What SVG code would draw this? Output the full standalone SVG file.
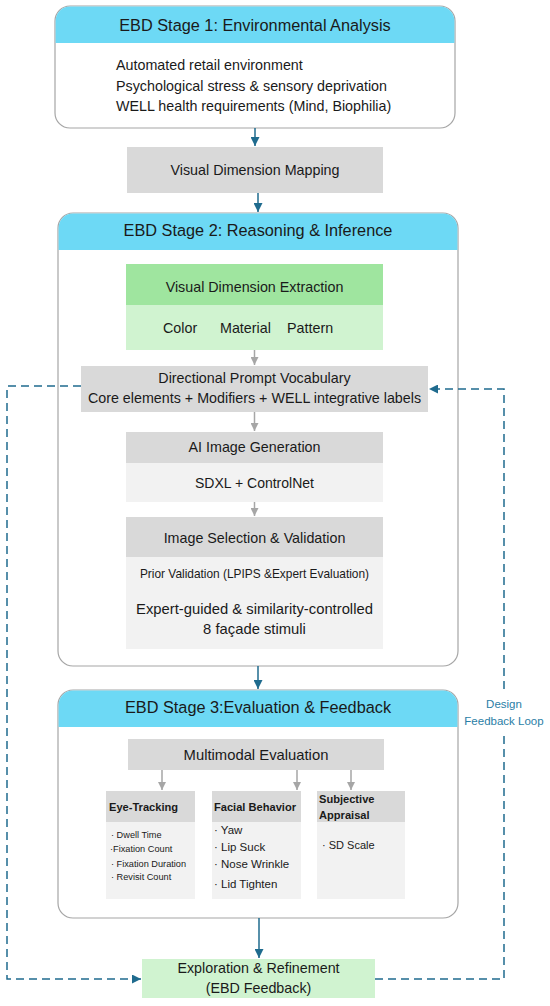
<svg xmlns="http://www.w3.org/2000/svg" width="550" height="1006" viewBox="0 0 550 1006">
<style>
text{font-family:"Liberation Sans",Arial,sans-serif;fill:#1a1a1a}
.hd{font-size:16.3px;text-anchor:middle}
.t{font-size:14.3px}
.c{text-anchor:middle}
.stage{fill:#ffffff;stroke:#a6a6a6;stroke-width:1.2}
.cyan{fill:#6dd9f5}
.g1{fill:#d9d9d9}
.g2{fill:#f2f2f2}
.gr1{fill:#9fe59f}
.gr2{fill:#d0f3d0}
.b{font-weight:bold;font-size:11.1px}
.sm{font-size:9.2px}
.md{font-size:11.5px}
.blue{stroke:#1f6b8e;stroke-width:1.5;fill:none}
.dash{stroke:#1f6b8e;stroke-width:1.5;fill:none;stroke-dasharray:8 5}
.gray{stroke:#a6a6a6;stroke-width:1.5;fill:none}
.lbl{font-size:11.5px;fill:#2a7ea6;text-anchor:middle}
</style>
<defs>
<marker id="ab" viewBox="0 0 10 10" refX="10" refY="5" markerWidth="9" markerHeight="9" markerUnits="userSpaceOnUse" orient="auto"><path d="M0,0 L10,5 L0,10 z" fill="#1f6b8e"/></marker>
<marker id="ag" viewBox="0 0 10 10" refX="10" refY="5" markerWidth="8" markerHeight="8" markerUnits="userSpaceOnUse" orient="auto"><path d="M0,0 L10,5 L0,10 z" fill="#a6a6a6"/></marker>
</defs>

<g id="stage1">
<path class="stage" d="M70,6 H440 A15,15 0 0 1 455,21 V113 A15,15 0 0 1 440,128 H70 A15,15 0 0 1 55,113 V21 A15,15 0 0 1 70,6 Z"/>
<path class="cyan" d="M70,6.6 H440 A14.4,14.4 0 0 1 454.4,21 V43 H55.6 V21 A14.4,14.4 0 0 1 70,6.6 Z"/>
<text class="hd" x="255" y="31">EBD Stage 1: Environmental Analysis</text>
<text class="t" x="116" y="70">Automated retail environment</text>
<text class="t" x="116" y="91">Psychological stress &amp; sensory deprivation</text>
<text class="t" x="116" y="111">WELL health requirements (Mind, Biophilia)</text>
</g>

<g id="mapping">
<rect class="g1" x="127" y="147" width="256" height="46"/>
<text class="t c" x="255" y="175">Visual Dimension Mapping</text>
</g>

<g id="stage2">
<path class="stage" d="M73,213 H443 A15,15 0 0 1 458,228 V651 A15,15 0 0 1 443,666 H73 A15,15 0 0 1 58,651 V228 A15,15 0 0 1 73,213 Z"/>
<path class="cyan" d="M73,213.6 H443 A14.4,14.4 0 0 1 457.4,228 V250 H58.6 V228 A14.4,14.4 0 0 1 73,213.6 Z"/>
<text class="hd" x="258" y="236">EBD Stage 2: Reasoning &amp; Inference</text>
</g>

<g id="extraction">
<rect class="gr1" x="126" y="264" width="257" height="41"/>
<rect class="gr2" x="126" y="305" width="257" height="45"/>
<text class="t c" x="254.5" y="292">Visual Dimension Extraction</text>
<text class="t" x="163" y="333">Color</text>
<text class="t" x="220" y="333">Material</text>
<text class="t" x="287" y="333">Pattern</text>
</g>

<g id="vocabulary">
<rect class="g1" x="81" y="366" width="347" height="46"/>
<text class="t c" x="254.5" y="383">Directional Prompt Vocabulary</text>
<text class="t c" x="254.5" y="403">Core elements + Modifiers + WELL integrative labels</text>
</g>

<g id="generation">
<rect class="g1" x="126" y="432" width="257" height="31"/>
<rect class="g2" x="126" y="463" width="257" height="39"/>
<text class="t c" x="254.5" y="452">AI Image Generation</text>
<text class="c" x="254.5" y="488" style="font-size:14px">SDXL + ControlNet</text>
</g>

<g id="selection">
<rect class="g1" x="126" y="517" width="257" height="40"/>
<rect class="g2" x="126" y="557" width="257" height="92"/>
<text class="t c" x="254.5" y="543">Image Selection &amp; Validation</text>
<text class="c" x="254.5" y="578" style="font-size:11.9px">Prior Validation (LPIPS &amp;Expert Evaluation)</text>
<text class="c" x="254.5" y="614" style="font-size:14.8px">Expert-guided &amp; similarity-controlled</text>
<text class="c" x="254.5" y="634" style="font-size:14.8px">8 façade stimuli</text>
</g>

<g id="stage3">
<path class="stage" d="M73,690 H443 A15,15 0 0 1 458,705 V903 A15,15 0 0 1 443,918 H73 A15,15 0 0 1 58,903 V705 A15,15 0 0 1 73,690 Z"/>
<path class="cyan" d="M73,690.6 H443 A14.4,14.4 0 0 1 457.4,705 V727 H58.6 V705 A14.4,14.4 0 0 1 73,690.6 Z"/>
<text class="hd" x="258" y="713">EBD Stage 3:Evaluation &amp; Feedback</text>
</g>

<g id="multimodal">
<rect class="g1" x="128" y="739" width="256" height="31"/>
<text class="c" x="256" y="760" style="font-size:14.8px">Multimodal Evaluation</text>
</g>

<g id="eyetracking">
<rect class="g1" x="106" y="791" width="89" height="31"/>
<rect class="g2" x="106" y="822" width="89" height="77"/>
<text class="b" x="109" y="811">Eye-Tracking</text>
<text class="sm" x="111" y="838">· Dwell Time</text>
<text class="sm" x="110" y="852">·Fixation Count</text>
<text class="sm" x="111" y="867">· Fixation Duration</text>
<text class="sm" x="111" y="880">· Revisit Count</text>
</g>

<g id="facial">
<rect class="g1" x="212" y="791" width="89" height="31"/>
<rect class="g2" x="212" y="822" width="89" height="77"/>
<text class="b" x="214" y="811">Facial Behavior</text>
<text class="md" x="214" y="834">· Yaw</text>
<text class="md" x="214" y="851">· Lip Suck</text>
<text class="md" x="214" y="868">· Nose Wrinkle</text>
<text class="md" x="214" y="888">· Lid Tighten</text>
</g>

<g id="subjective">
<rect class="g1" x="317" y="791" width="88" height="31"/>
<rect class="g2" x="317" y="822" width="88" height="77"/>
<text class="b" x="319" y="803">Subjective</text>
<text class="b" x="319" y="819">Appraisal</text>
<text x="322" y="849" style="font-size:11px">· SD Scale</text>
</g>

<g id="exploration">
<rect class="gr2" x="142" y="959" width="233" height="39"/>
<text class="t c" x="258.5" y="973">Exploration &amp; Refinement</text>
<text class="t c" x="258.5" y="993">(EBD Feedback)</text>
</g>

<g id="loop-label">
<text class="lbl" x="504" y="708">Design</text>
<text class="lbl" x="504" y="725">Feedback Loop</text>
</g>

<g id="connectors">
<path class="blue" d="M255,128 V146" marker-end="url(#ab)"/>
<path class="blue" d="M258,193 V212" marker-end="url(#ab)"/>
<path class="gray" d="M254.5,350 V365" marker-end="url(#ag)"/>
<path class="gray" d="M254.5,412 V431" marker-end="url(#ag)"/>
<path class="gray" d="M254.5,502 V516" marker-end="url(#ag)"/>
<path class="blue" d="M258,666 V689" marker-end="url(#ab)"/>
<path class="gray" d="M162,770 V790" marker-end="url(#ag)"/>
<path class="gray" d="M297,770 V790" marker-end="url(#ag)"/>
<path class="gray" d="M351,770 V790" marker-end="url(#ag)"/>
<path class="blue" d="M259,918 V958" marker-end="url(#ab)"/>
<path class="dash" d="M81,386 H7 V979 H141" marker-end="url(#ab)"/>
<path class="dash" d="M375,979 H504 V733"/>
<path class="dash" d="M504,689 V389 H429" marker-end="url(#ab)"/>
</g>
</svg>
